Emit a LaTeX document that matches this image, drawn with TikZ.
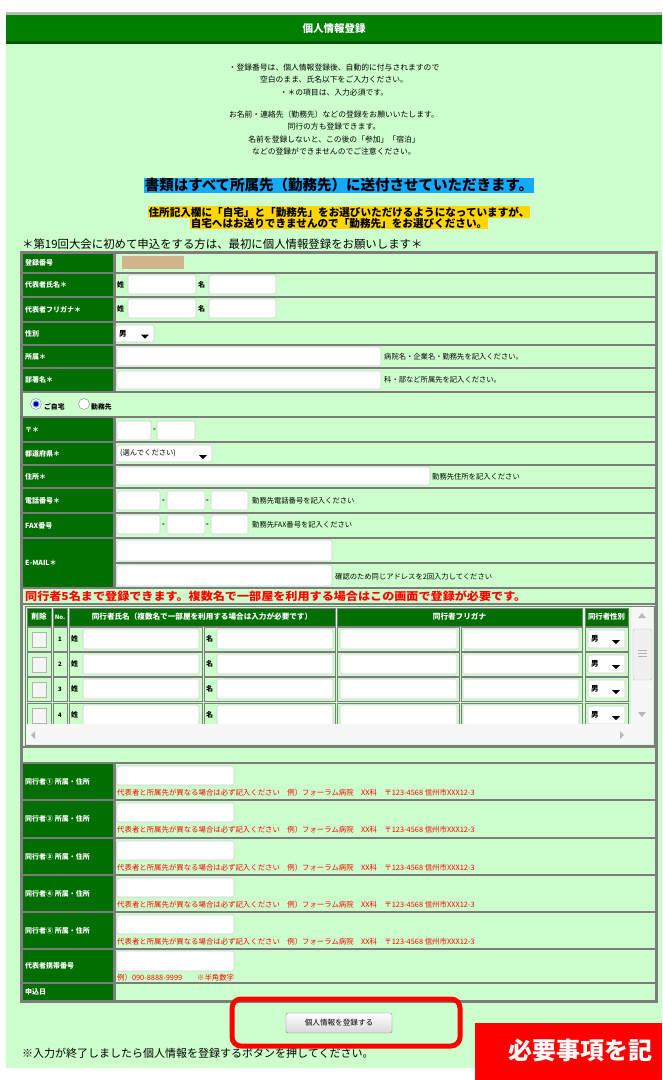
\documentclass[tikz,border=0pt]{standalone}
\usepackage{fontspec}
\setmainfont{Noto Sans CJK JP}
\usetikzlibrary{positioning}
\definecolor{panelgreen}{RGB}{204,255,204}
\definecolor{formgreen}{RGB}{0,110,0}
\definecolor{headgreen}{RGB}{0,128,0}
\definecolor{bordergray}{RGB}{125,125,125}
\definecolor{boxgray}{RGB}{205,205,205}
\definecolor{noticeblue}{RGB}{20,170,255}
\definecolor{noticeyellow}{RGB}{255,214,0}
\definecolor{regtan}{RGB}{210,180,140}
\newcommand{\fs}[1]{\fontsize{#1}{#1}\selectfont}
% one row of the form: name, top, bottom, label
\newcommand{\formrow}[4]{%
  \path[valcell] (115,#2) rectangle (656,#3);
  \path[lblcell] (22,#2) rectangle (114,#3);
  \node[lbltext] (#1) at (25,{(#2+#3)/2}) {#4};
}
% text field
\newcommand{\inputbox}[4]{\path[inbox] (#1,#2) rectangle (#3,#4);}
% drop down: x1,y1,x2,y2,text
\newcommand{\dropbox}[5]{%
  \path[inbox] (#1,#2) rectangle (#3,#4);
  \node[notetext, font=\fs{7.5}\bfseries] at ({#1+3},{(#2+#4)/2}) {#5};
  \fill ({#3-13},{(#2+#4)/2+1}) -- ({#3-5},{(#2+#4)/2+1}) -- ({#3-9},{(#2+#4)/2+5}) -- cycle;
}

\begin{document}
\begin{tikzpicture}[x=1pt,y=-1pt,
  lblcell/.style={draw=bordergray, fill=formgreen, line width=1.2pt},
  valcell/.style={draw=bordergray, fill=panelgreen, line width=1.2pt},
  inbox/.style={draw=boxgray, fill=white, line width=0.6pt, rounded corners=1.5pt},
  lbltext/.style={text=white, font=\fs{7}\bfseries, anchor=west, inner sep=0pt},
  hdtext/.style={text=white, font=\fs{7.6}\bfseries, inner sep=0pt},
  notetext/.style={font=\fs{7.3}, anchor=west, inner sep=0pt},
  rednote/.style={notetext, text=red},
  introtext/.style={font=\fontsize{7.8}{12.2}\selectfont, align=center, inner sep=0pt},
  arrowtip/.style={fill=gray!55}
]
\useasboundingbox (0,0) rectangle (662,1080);
\fill[white] (0,0) rectangle (662,1080);
\fill[panelgreen] (6,12) rectangle (662,1068);

% title bar
\fill[gray!55] (6,12) rectangle (662,15);
\fill[headgreen] (6,15) rectangle (662,41);
\fill[formgreen!75!black] (6,41) rectangle (662,44);
\node[text=white, font=\fs{10.5}\bfseries] (title) at (334,29) {個人情報登録};

% introduction
\node[introtext] (intro1) at (334,80) {・登録番号は、個人情報登録後、自動的に付与されますので\\空白のまま、氏名以下をご入力ください。\\・＊の項目は、入力必須です。};
\node[introtext] (intro2) at (334,133) {お名前・連絡先（勤務先）などの登録をお願いいたします。\\同行の方も登録できます。\\名前を登録しないと、この後の「参加」「宿泊」\\などの登録ができませんのでご注意ください。};

\node[fill=noticeblue, font=\fs{14.5}\bfseries, inner xsep=1pt, inner ysep=0.5pt] (sendnote) at (339,185) {書類はすべて所属先（勤務先）に送付させていただきます。};
\node[fill=noticeyellow, font=\fs{10.6}\bfseries, inner xsep=1pt, inner ysep=0.5pt] (addrnote1) at (339,212) {住所記入欄に「自宅」と「勤務先」をお選びいただけるようになっていますが、};
\node[fill=noticeyellow, font=\fs{10.6}\bfseries, inner xsep=1pt, inner ysep=0.5pt, below=0pt of addrnote1] (addrnote2) {自宅へはお送りできませんので「勤務先」をお選びください。};
\node[anchor=west, font=\fs{11.4}, inner sep=0pt] (lead) at (22,244) {＊第19回大会に初めて申込をする方は、最初に個人情報登録をお願いします＊};

% form table
\path[draw=bordergray, line width=2pt] (21,252) rectangle (657,1002);
\formrow{regno}{253}{273}{登録番号}
\fill[regtan] (122,256) rectangle (184,269);
\formrow{name}{273}{297}{代表者氏名＊}
\formrow{kana}{297}{322}{代表者フリガナ＊}
\foreach \r/\c in {name/285,kana/309} {
  \node[notetext, font=\fs{7}\bfseries] (\r sei) at (117,\c) {姓};
  \inputbox{128}{\c-10}{196}{\c+9}
  \node[notetext, font=\fs{7}\bfseries] (\r mei) at (198,\c) {名};
  \inputbox{209}{\c-10}{276}{\c+9}
}
\formrow{sex}{322}{345}{性別}
\dropbox{116}{325}{154}{342}{男}
\formrow{aff}{345}{368}{所属＊}
\inputbox{117}{347}{381}{366}
\node[notetext] (affnote) at (384,357) {病院名・企業名・勤務先を記入ください。};
\formrow{dept}{368}{392}{部署名＊}
\inputbox{117}{371}{381}{389}
\node[notetext] (deptnote) at (384,380) {科・部など所属先を記入ください。};

% home / office choice
\path[valcell] (22,392) rectangle (656,417);
\path[draw=gray, fill=white] (36,404) circle (5.5pt);
\fill[blue!55!cyan!60] (36,404) circle (3.6pt);
\fill[blue!70!black] (36,404) circle (2.4pt);
\node[notetext, font=\fs{6.8}\bfseries] (home) at (44,407) {ご自宅};
\path[draw=gray, fill=white] (84,404) circle (5.5pt);
\node[notetext, font=\fs{6.8}\bfseries] (office) at (91,407) {勤務先};

\formrow{zip}{417}{442}{〒＊}
\inputbox{117}{421}{151}{440}
\node[notetext, font=\fs{7}\bfseries] at (153,430) {-};
\inputbox{157}{421}{195}{440}
\formrow{pref}{442}{465}{都道府県＊}
\path[inbox] (117,445) rectangle (212,462);
\node[notetext] (prefsel) at (120,453) {(選んでください)};
\fill (199,455) -- (207,455) -- (203,459) -- cycle;
\formrow{addr}{465}{488}{住所＊}
\inputbox{117}{467}{430}{485}
\node[notetext] (addrtext) at (432,477) {勤務先住所を記入ください};
\formrow{tel}{488}{513}{電話番号＊}
\formrow{fax}{513}{538}{FAX番号}
\foreach \r/\c/\t in {tel/501/勤務先電話番号を記入ください,fax/525/勤務先FAX番号を記入ください} {
  \inputbox{117}{\c-10}{160}{\c+9}
  \node[notetext, font=\fs{7}\bfseries] at (162,\c) {-};
  \inputbox{167}{\c-10}{205}{\c+9}
  \node[notetext, font=\fs{7}\bfseries] at (206,\c) {-};
  \inputbox{211}{\c-10}{248}{\c+9}
  \node[notetext] (\r note) at (252,\c) {\t};
}
% e-mail, two lines
\path[valcell] (115,538) rectangle (656,563);
\path[valcell] (115,563) rectangle (656,588);
\path[lblcell] (22,538) rectangle (114,588);
\node[lbltext] (mail) at (25,563) {E-MAIL＊};
\inputbox{117}{540}{332}{561}
\inputbox{117}{565}{332}{586}
\node[notetext] (mailnote) at (335,577) {確認のため同じアドレスを2回入力してください};

% companions
\path[valcell] (22,588) rectangle (656,604);
\node[notetext, text=red, font=\fs{11}\bfseries] (compnote) at (25,596) {\scalebox{1.1}[1]{同行者5名まで登録できます。複数名で一部屋を利用する場合はこの画面で登録が必要です。}};
\path[valcell] (22,604) rectangle (656,747);
\path[draw=bordergray, fill=panelgreen, line width=0.8pt] (25,606) rectangle (654,745);
\foreach \xa/\xb in {27/51,53/67,69/335,337/582,585/628}
  \path[lblcell, line width=0.8pt] (\xa,608) rectangle (\xb,626);
\node[hdtext] (hdel) at (39,617) {削除};
\node[hdtext, font=\fs{6}\bfseries] (hno) at (60,617) {No.};
\node[hdtext] (hname) at (202,617) {同行者氏名（複数名で一部屋を利用する場合は入力が必要です）};
\node[hdtext] (hkana) at (459.5,617) {同行者フリガナ};
\node[hdtext, font=\fs{7.4}\bfseries] (hsex) at (606.5,617) {同行者性別};
\begin{scope}
  \clip (25,626) rectangle (631,724);
  \foreach \n/\t in {1/627,2/652,3/677,4/703} {
    \foreach \xa/\xb in {27/51,53/67,69/202,204/335,337/459,461/582,585/628}
      \path[valcell, line width=0.8pt] (\xa,\t) rectangle (\xb,\t+24);
    \path[draw=gray!60, fill=gray!8] (32,\t+5) rectangle (46,\t+20);
    \node[font=\fs{6}\bfseries, inner sep=0pt] (no\n) at (60,\t+12) {\n};
    \node[notetext, font=\fs{7}\bfseries] (sei\n) at (71,\t+12) {姓};
    \inputbox{83}{\t+2}{199}{\t+22}
    \node[notetext, font=\fs{7}\bfseries] (mei\n) at (206,\t+12) {名};
    \inputbox{217}{\t+2}{333}{\t+22}
    \inputbox{340}{\t+2}{457}{\t+22}
    \inputbox{463}{\t+2}{579}{\t+22}
    \dropbox{588}{\t+3}{625}{\t+21}{男}
  }
\end{scope}
% scroll bars
\fill[gray!6] (631,607) rectangle (653,744);
\fill[gray!6] (26,724) rectangle (631,744);
\path[draw=gray!50, fill=gray!12, rounded corners=1.5pt] (633,629) rectangle (652,680);
\foreach \g in {650,653,656} \draw[gray!60] (638,\g) -- (647,\g);
\fill[arrowtip] (638,618) -- (646,618) -- (642,613) -- cycle;
\fill[arrowtip] (638,712) -- (646,712) -- (642,717) -- cycle;
\fill[arrowtip] (35,731) -- (35,739) -- (31,735) -- cycle;
\fill[arrowtip] (620,731) -- (620,739) -- (624,735) -- cycle;

\path[valcell] (22,747) rectangle (656,763);
\foreach \k/\c/\ta/\tb in {1/①/763/800,2/②/800/838,3/③/838/875,4/④/875/912,5/⑤/912/949} {
  \formrow{comp\k}{\ta}{\tb}{同行者\c\ 所属・住所}
  \inputbox{117}{\ta+3}{234}{\ta+22}
  \node[rednote, font=\fs{7.4}] (compaddr\k) at (117,\ta+30) {代表者と所属先が異なる場合は必ず記入ください　例）フォーラム病院　XX科　〒123-4568 信州市XXX12-3};
}
\formrow{mobile}{949}{983}{代表者携帯番号}
\inputbox{117}{951}{234}{971}
\node[rednote, font=\fs{7.4}] (mobilenote) at (117,978) {例）090-8888-9999　　※半角数字};
\formrow{date}{983}{1001}{申込日}

% submit
\node[anchor=west, font=\fs{11}, inner sep=0pt] (footer) at (22,1053) {※入力が終了しましたら個人情報を登録するボタンを押してください。};
\path[draw=gray, rounded corners=2pt, top color=white, bottom color=gray!30] (286,1013) rectangle (392,1033);
\node[font=\fs{7.6}, inner sep=0pt] (submit) at (339,1023) {個人情報を登録する};
\draw[red, line width=5pt, rounded corners=9pt] (232,999) rectangle (460,1046);
\begin{scope}
  \clip (475,1023) rectangle (662,1080);
  \fill[red] (475,1023) rectangle (662,1080);
  \node[anchor=west, text=white, font=\fs{24}\bfseries, inner sep=0pt] (banner) at (508,1050) {必要事項を記};
\end{scope}
\end{tikzpicture}
\end{document}
